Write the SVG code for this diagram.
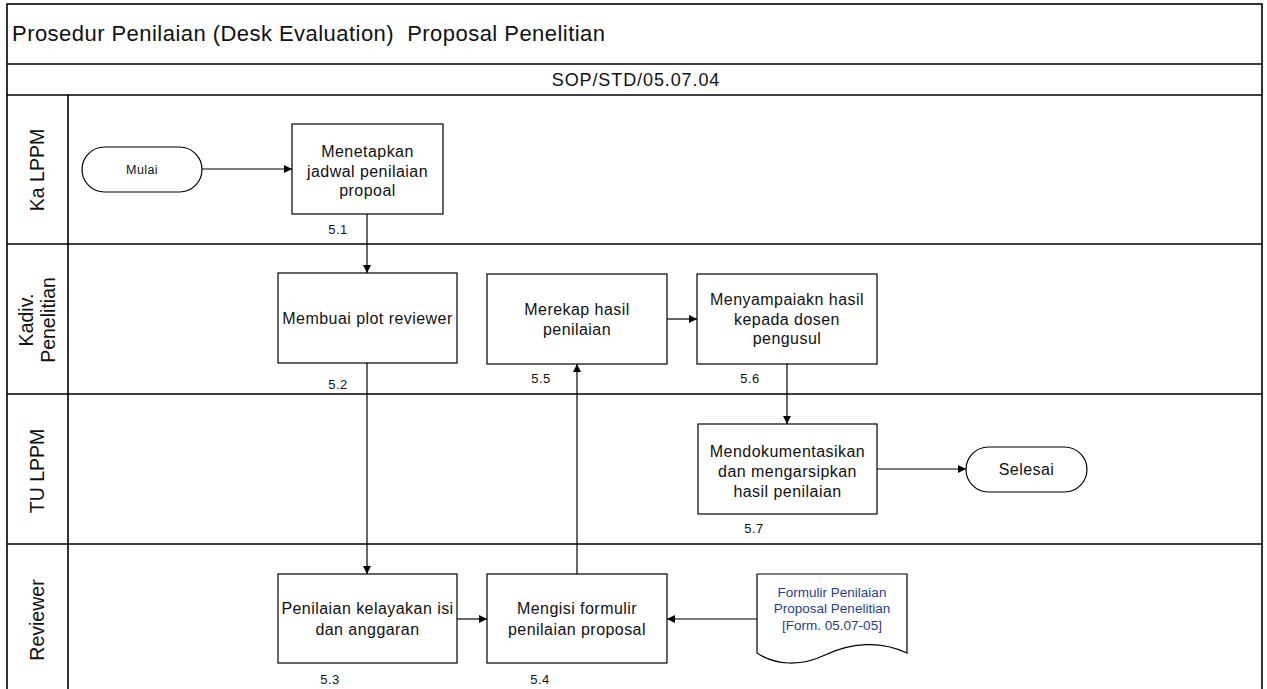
<svg xmlns="http://www.w3.org/2000/svg" width="1267" height="689" viewBox="0 0 1267 689">
<style>
.frame{fill:none;stroke:#000;stroke-width:1.6}
.box{fill:#fff;stroke:#000;stroke-width:1.2}
.t{font-family:"Liberation Sans",Arial,sans-serif;fill:#111;text-anchor:middle}
.body{font-size:16px;letter-spacing:0.45px}
.lane{font-size:19.5px}
.num{font-size:13px;letter-spacing:0.4px}
.doc{font-size:13.5px;fill:#1f3f8f}
.conn{fill:none;stroke:#000;stroke-width:1.2}
</style>
<defs>
<marker id="ah" viewBox="0 0 10 10" refX="10" refY="5" markerWidth="8" markerHeight="8" markerUnits="userSpaceOnUse" orient="auto">
<path d="M0,0 L10,5 L0,10 Z" fill="#000"/>
</marker>
</defs>
<rect width="1267" height="689" fill="#fff"/>
<g id="frame">
<rect class="frame" x="7" y="4" width="1255" height="700"/>
<line class="frame" x1="7" y1="64" x2="1262" y2="64"/>
<line class="frame" x1="7" y1="95" x2="1262" y2="95"/>
<line class="frame" x1="7" y1="244" x2="1262" y2="244"/>
<line class="frame" x1="7" y1="394" x2="1262" y2="394"/>
<line class="frame" x1="7" y1="544" x2="1262" y2="544"/>
<line class="frame" x1="68" y1="95" x2="68" y2="689"/>
<text class="t" x="12" y="41" font-size="22" style="text-anchor:start" xml:space="preserve" textLength="593" lengthAdjust="spacing">Prosedur Penilaian (Desk Evaluation)  Proposal Penelitian</text>
<text class="t" x="636" y="86" font-size="18" letter-spacing="0.9">SOP/STD/05.07.04</text>
</g>
<g id="lanes">
<text class="t lane" transform="translate(44,170) rotate(-90)">Ka LPPM</text>
<text class="t lane" transform="translate(33,320) rotate(-90)">Kadiv.</text>
<text class="t lane" transform="translate(55,320) rotate(-90)">Penelitian</text>
<text class="t lane" transform="translate(44,471) rotate(-90)">TU LPPM</text>
<text class="t lane" transform="translate(44,620) rotate(-90)">Reviewer</text>
</g>
<g id="connectors">
<line class="conn" x1="202" y1="169" x2="292" y2="169" marker-end="url(#ah)"/>
<line class="conn" x1="367" y1="214" x2="367" y2="273" marker-end="url(#ah)"/>
<line class="conn" x1="367" y1="363" x2="367" y2="574" marker-end="url(#ah)"/>
<line class="conn" x1="457" y1="619" x2="487" y2="619" marker-end="url(#ah)"/>
<line class="conn" x1="577" y1="574" x2="577" y2="364" marker-end="url(#ah)"/>
<line class="conn" x1="667" y1="319" x2="697" y2="319" marker-end="url(#ah)"/>
<line class="conn" x1="787" y1="364" x2="787" y2="424" marker-end="url(#ah)"/>
<line class="conn" x1="877" y1="469" x2="966" y2="469" marker-end="url(#ah)"/>
<line class="conn" x1="757" y1="619" x2="667" y2="619" marker-end="url(#ah)"/>
</g>
<g id="mulai">
<rect class="box" x="82" y="147" width="120" height="45" rx="22.5"/>
<text class="t" x="142" y="174" font-size="12.5" letter-spacing="0.4">Mulai</text>
</g>
<g id="n51">
<rect class="box" x="292" y="124" width="151" height="90"/>
<text class="t body" x="367.5" y="157">Menetapkan</text>
<text class="t body" x="367.5" y="177">jadwal penilaian</text>
<text class="t body" x="367.5" y="196">propoal</text>
<text class="t num" x="338" y="234">5.1</text>
</g>
<g id="n52">
<rect class="box" x="278" y="273" width="179" height="90"/>
<text class="t body" x="367.5" y="324">Membuai plot reviewer</text>
<text class="t num" x="338" y="389">5.2</text>
</g>
<g id="n53">
<rect class="box" x="278" y="574" width="179" height="89"/>
<text class="t body" x="367.5" y="614">Penilaian kelayakan isi</text>
<text class="t body" x="367.5" y="635">dan anggaran</text>
<text class="t num" x="330" y="684">5.3</text>
</g>
<g id="n54">
<rect class="box" x="487" y="574" width="180" height="89"/>
<text class="t body" x="577" y="614">Mengisi formulir</text>
<text class="t body" x="577" y="635">penilaian proposal</text>
<text class="t num" x="540" y="684">5.4</text>
</g>
<g id="n55">
<rect class="box" x="487" y="274" width="180" height="90"/>
<text class="t body" x="577" y="315">Merekap hasil</text>
<text class="t body" x="577" y="335">penilaian</text>
<text class="t num" x="541" y="383">5.5</text>
</g>
<g id="n56">
<rect class="box" x="697" y="274" width="180" height="90"/>
<text class="t body" x="787" y="305">Menyampaiakn hasil</text>
<text class="t body" x="787" y="325">kepada dosen</text>
<text class="t body" x="787" y="344">pengusul</text>
<text class="t num" x="750" y="383">5.6</text>
</g>
<g id="n57">
<rect class="box" x="698" y="424" width="179" height="90"/>
<text class="t body" x="787.5" y="457">Mendokumentasikan</text>
<text class="t body" x="787.5" y="477">dan mengarsipkan</text>
<text class="t body" x="787.5" y="497">hasil penilaian</text>
<text class="t num" x="754" y="533">5.7</text>
</g>
<g id="selesai">
<rect class="box" x="966" y="447" width="121" height="45" rx="22.5"/>
<text class="t body" x="1026.5" y="475">Selesai</text>
</g>
<g id="formulir">
<path class="box" d="M757,574 H907 V653 C880,640 850,643 825,655 C800,667 775,665 757,653 Z"/>
<text class="t doc" x="832" y="597">Formulir Penilaian</text>
<text class="t doc" x="832" y="613">Proposal Penelitian</text>
<text class="t doc" x="832" y="630">[Form. 05.07-05]</text>
</g>
</svg>
